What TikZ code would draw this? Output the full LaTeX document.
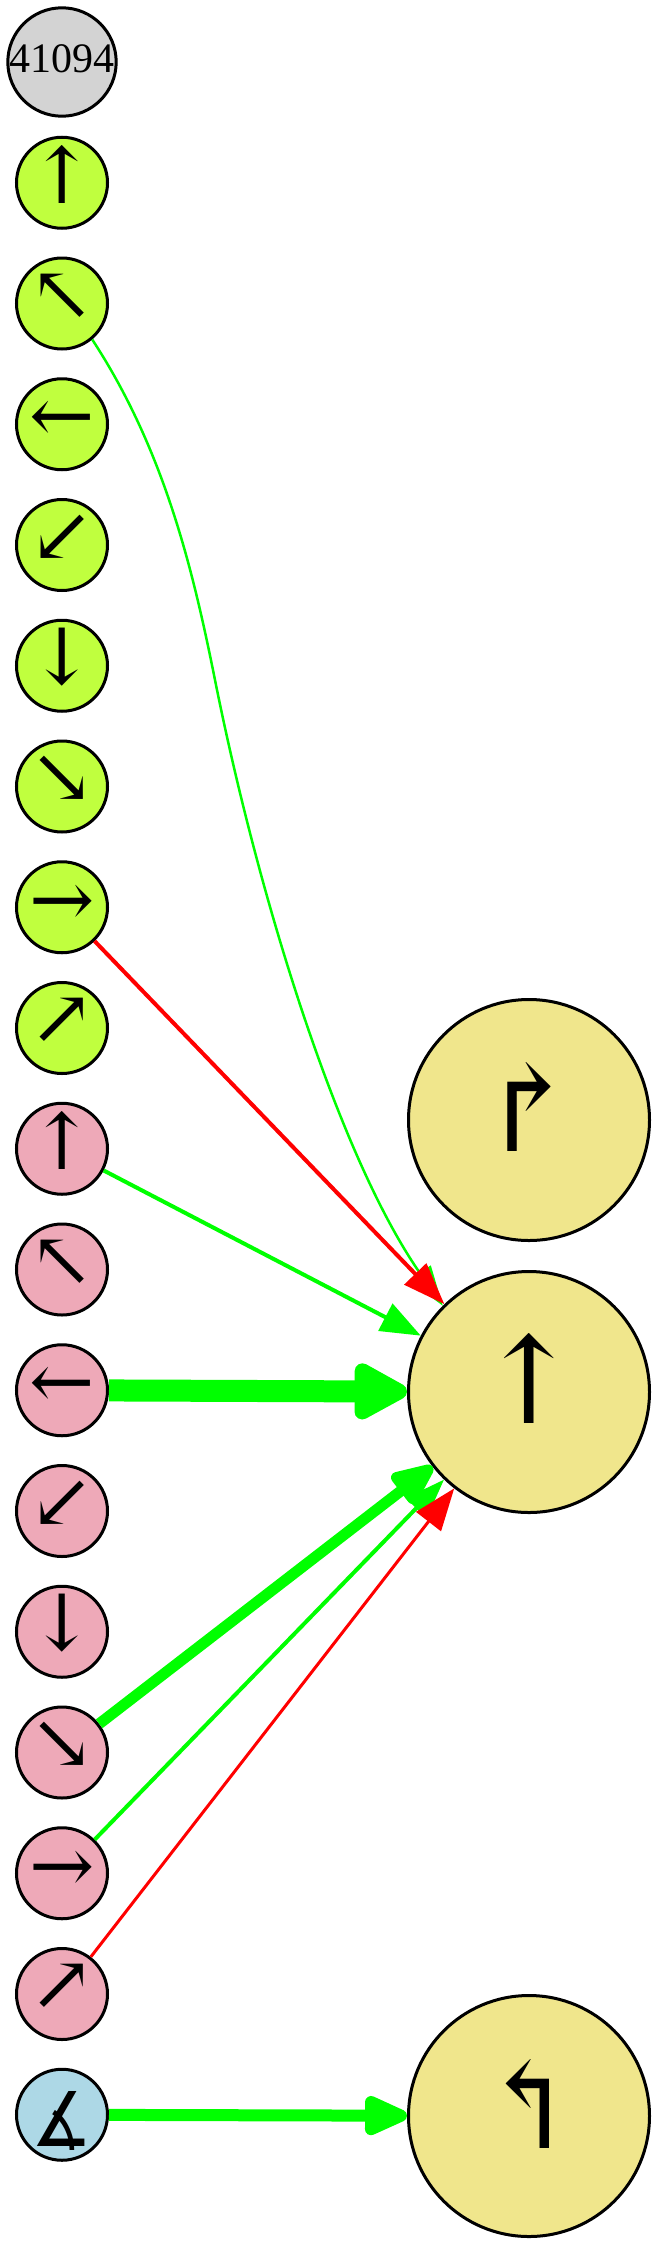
\documentclass[tikz,border=0pt]{standalone}
\usepackage{fontspec}
\setmainfont{Liberation Serif}
\newfontfamily\arrowfont{DejaVu Serif}
\newfontfamily\anglefont{DejaVu Sans Condensed}
\usetikzlibrary{arrows.meta}
\definecolor{nodeyg}{HTML}{C0FF3E}
\definecolor{nodepink}{HTML}{EEA9B8}
\definecolor{nodeblue}{HTML}{ADD8E6}
\definecolor{nodekhaki}{HTML}{F0E68C}
\definecolor{nodegray}{HTML}{D3D3D3}
\definecolor{edgegreen}{HTML}{00FF00}
\definecolor{edgered}{HTML}{FF0000}
\newcommand\rglyph[2]{\raisebox{#1}[\height][\depth]{#2}}
\newsavebox\fitbox
\newcommand\fitsize[4]{\sbox\fitbox{#2\fontsize{10pt}{10pt}\selectfont #3}%
  \edef#1{\the\dimexpr #4 * 655360 / \numexpr\ht\fitbox+\dp\fitbox\relax\relax}}
\fitsize\smallsz{\arrowfont}{↑}{29pt}
\fitsize\bigsz{\arrowfont}{↑}{45pt}
\fitsize\turnsz{\arrowfont}{↱}{44.5pt}
\fitsize\anglesz{\anglefont}{∡}{29.5pt}
\begin{document}
\begin{tikzpicture}[x=0.5pt,y=-0.5pt,
  small/.style={circle,draw=black,line width=1.5pt,minimum size=45.5pt,inner sep=0pt,
    font=\arrowfont\fontsize{\smallsz}{\smallsz}\selectfont},
  yg/.style={small,fill=nodeyg},
  pk/.style={small,fill=nodepink},
  big/.style={circle,draw=black,fill=nodekhaki,line width=1.5pt,minimum size=120.5pt,inner sep=0pt,
    font=\arrowfont\fontsize{\bigsz}{\bigsz}\selectfont},
  turn/.style={big,font=\arrowfont\fontsize{\turnsz}{\turnsz}\selectfont},
  eg/.style={draw=edgegreen},
  er/.style={draw=edgered}]
\useasboundingbox (0,0) rectangle (667,2254);

\node[small,fill=nodegray,font=\fontsize{21pt}{21pt}\selectfont] (n0) at (62,62) {\rglyph{1.75pt}{41094}};
\node[yg] (g1) at (62,182.75) {\rglyph{4.25pt}{↑}};
\node[yg] (g2) at (62,303.5) {\rglyph{3.25pt}{↖}};
\node[yg] (g3) at (62,424.25) {\rglyph{1.25pt}{←}};
\node[yg] (g4) at (62,545) {\rglyph{3.25pt}{↙}};
\node[yg] (g5) at (62,665.75) {\rglyph{4.25pt}{↓}};
\node[yg] (g6) at (62,786.5) {\rglyph{3.25pt}{↘}};
\node[yg] (g7) at (62,907.25) {\rglyph{0.75pt}{→}};
\node[yg] (g8) at (62,1028) {\rglyph{3.25pt}{↗}};
\node[pk] (p9) at (62,1148.75) {\rglyph{4.25pt}{↑}};
\node[pk] (p10) at (62,1269.5) {\rglyph{3.25pt}{↖}};
\node[pk] (p11) at (62,1390.25) {\rglyph{1.25pt}{←}};
\node[pk] (p12) at (62,1511) {\rglyph{3.25pt}{↙}};
\node[pk] (p13) at (62,1631.75) {\rglyph{4.25pt}{↓}};
\node[pk] (p14) at (62,1752.5) {\rglyph{3.25pt}{↘}};
\node[pk] (p15) at (62,1873.25) {\rglyph{0.75pt}{→}};
\node[pk] (p16) at (62,1994) {\rglyph{3.25pt}{↗}};
\node[small,fill=nodeblue,font=\anglefont\fontsize{\anglesz}{\anglesz}\selectfont] (b17) at (62,2114.75) {\rglyph{-2.9pt}{∡}};

\node[turn] (B1) at (529,1120) {\rglyph{6.5pt}{↱}};
\node[big] (B2) at (529,1392) {\rglyph{7pt}{↑}};
\node[turn] (B3) at (529,2116) {\rglyph{6.25pt}{↰}};

\draw[eg,line width=1.25pt,-{Triangle[length=20pt,width=13pt]}]
  (g2.-50) .. controls (164.5,450) and (193,570) .. (215,680)
  .. controls (259,900) and (339,1157) .. (B2.135);
\draw[er,line width=2pt,-{Triangle[length=21pt,width=15pt]}] (g7) -- (B2);
\draw[eg,line width=2pt,-{Triangle[length=20pt,width=15pt]}] (p9) -- (B2);
\draw[eg,line width=11pt,-{Triangle[length=31pt,width=31pt,round]}] (p11) -- (B2);
\draw[eg,line width=5.5pt,-{Triangle[length=25pt,width=20pt,round]}] (p14) -- (B2);
\draw[eg,line width=2pt,-{Triangle[length=20pt,width=14pt]}] (p15) -- (B2);
\draw[er,line width=1.5pt,-{Triangle[length=21pt,width=15.5pt]}] (p16) -- (B2);
\draw[eg,line width=6pt,-{Triangle[length=26pt,width=21pt,round]}] (b17) -- (B3);
\end{tikzpicture}
\end{document}
